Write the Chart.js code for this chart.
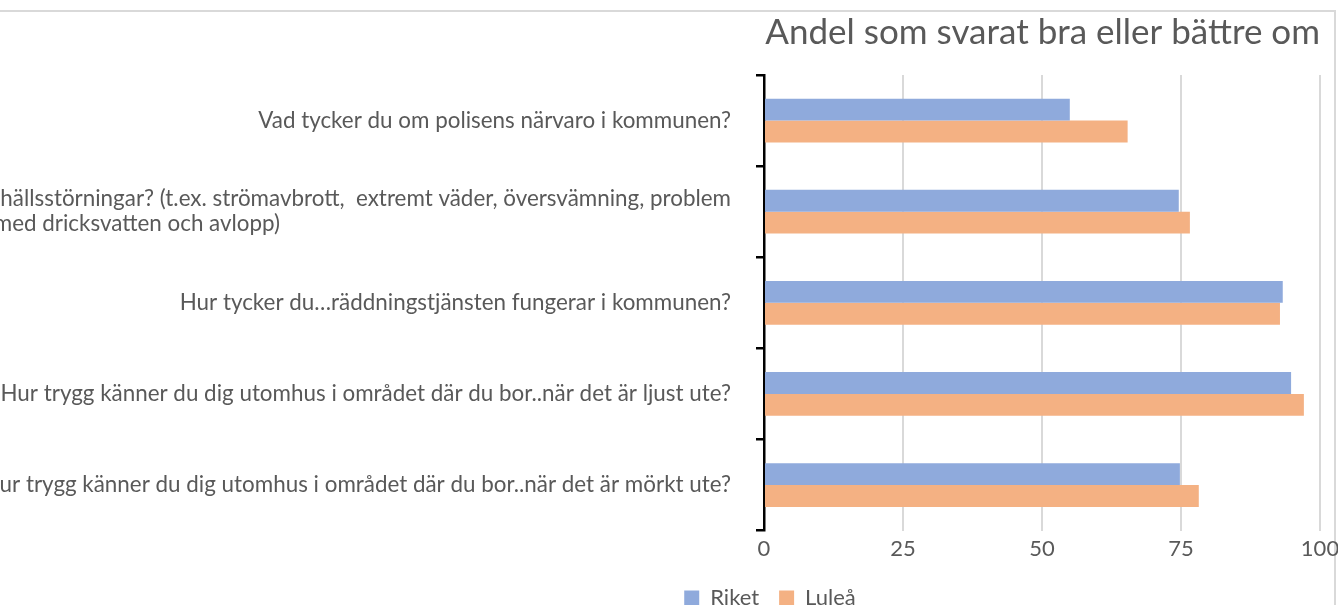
<!DOCTYPE html>
<html>
<head>
<meta charset="utf-8">
<script src="https://cdn.jsdelivr.net/npm/chart.js@4.4.1/dist/chart.umd.min.js"></script>
<style>
  html, body { margin: 0; padding: 0; background: #fff; overflow: hidden; width: 1338px; height: 605px; }
  #frame {
    position: absolute; left: -10px; top: 10px;
    width: 1346px; height: 700px;
    border-top: 2px solid #d9d9d9;
    border-right: 2px solid #d9d9d9;
    box-sizing: border-box;
    pointer-events: none;
  }
  #chart { position: absolute; left: -790px; top: 12px; }
</style>
</head>
<body>
<div id="frame"></div>
<canvas id="chart" width="2135" height="607"></canvas>
<script>
// data
const categories = [
  'Vad tycker du om polisens närvaro i kommunen?',
  ['Hur väl tror du att kommunen kan hantera samhällsstörningar? (t.ex. strömavbrott,  extremt väder, översvämning, problem',
   'med dricksvatten och avlopp)'],
  'Hur tycker du…räddningstjänsten fungerar i kommunen?',
  'Hur trygg känner du dig utomhus i området där du bor..när det är ljust ute?',
  'Hur trygg känner du dig utomhus i området där du bor..när det är mörkt ute?'
];
const riket = [55.0, 74.6, 93.3, 94.8, 74.8];
const lulea = [65.4, 76.6, 92.8, 97.1, 78.2];
const xTicks = [0, 25, 50, 75, 100];
const titleText = 'Andel som svarat bra eller bättre om';

const textColor = '#595959';
const fontFamily = 'Lato, "Open Sans", sans-serif';

// Excel-style category labels: block right aligned, lines centred inside the block
const yLabelPlugin = {
  id: 'yLabels',
  afterLayout(chart) {
    // legend sits centred just right of the value axis start, like the original
    const lg = chart.legend;
    const w = lg.right - lg.left;
    const c = chart.chartArea.left + 6;
    lg.left = c - w / 2;
    lg.right = c + w / 2;
  },
  afterDraw(chart) {
    const scale = chart.scales.y;
    const ctx = chart.ctx;
    const lineH = 25;
    ctx.save();
    ctx.font = '22.4px ' + fontFamily;
    ctx.fillStyle = textColor;
    ctx.textBaseline = 'middle';
    ctx.textAlign = 'center';
    scale.ticks.forEach((tick, i) => {
      const label = scale.getLabelForValue(tick.value);
      const lines = Array.isArray(label) ? label : [label];
      const blockW = Math.max(...lines.map(l => ctx.measureText(l).width));
      const cx = scale.right - 33 - blockW / 2;
      const y0 = scale.getPixelForTick(i) - (lines.length - 1) * lineH / 2;
      lines.forEach((l, j) => ctx.fillText(l, cx, y0 + j * lineH));
    });
    ctx.restore();
  }
};

new Chart(document.getElementById('chart'), {
  type: 'bar',
  data: {
    labels: categories,
    datasets: [
      { label: 'Riket', data: riket, backgroundColor: '#8faadc' },
      { label: 'Luleå', data: lulea, backgroundColor: '#f4b183' }
    ]
  },
  options: {
    indexAxis: 'y',
    responsive: false,
    animation: false,
    devicePixelRatio: 1,
    categoryPercentage: 0.48,
    barPercentage: 1.0,
    layout: { padding: { left: 0, right: 25, top: 0, bottom: 0 } },
    scales: {
      x: {
        min: 0,
        max: 100,
        afterBuildTicks(scale) { scale.ticks = xTicks.map(v => ({ value: v })); },
        grid: { color: '#d9d9d9', lineWidth: 2, drawTicks: false },
        border: { display: false },
        ticks: { color: textColor, font: { family: fontFamily, size: 22 }, padding: 5 }
      },
      y: {
        afterFit(scale) { scale.width = 1554; },
        grid: { drawOnChartArea: false, drawTicks: true, tickLength: 8, color: '#000', lineWidth: 2.5 },
        border: { color: '#000', width: 2.5 },
        ticks: { display: false }
      }
    },
    plugins: {
      title: {
        display: true,
        text: titleText,
        align: 'end',
        color: textColor,
        font: { family: fontFamily, size: 35, weight: 'normal' },
        padding: { top: 0, bottom: 21 }
      },
      legend: {
        position: 'bottom',
        labels: {
          color: textColor,
          font: { family: fontFamily, size: 22 },
          boxWidth: 15,
          boxHeight: 15,
          padding: 20
        }
      },
      tooltip: { enabled: false }
    }
  },
  plugins: [yLabelPlugin]
});
</script>
</body>
</html>
